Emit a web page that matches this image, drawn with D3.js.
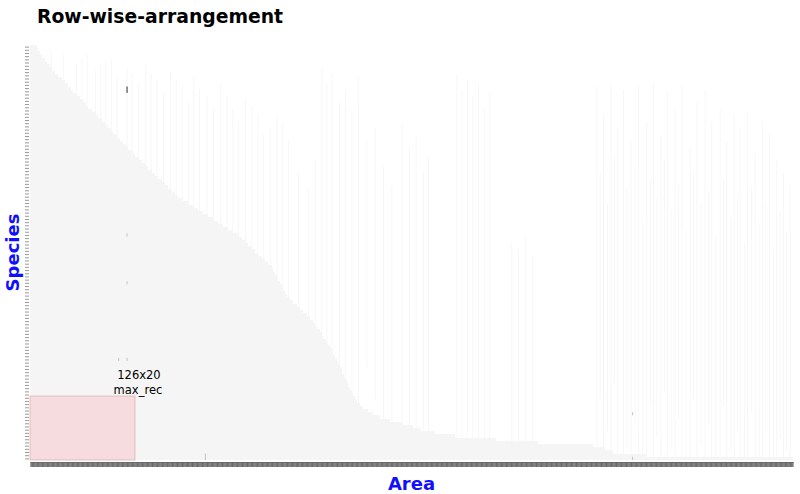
<!DOCTYPE html>
<html><head><meta charset="utf-8">
<script src="https://cdn.jsdelivr.net/npm/d3@7"></script>
<style>body{margin:0;background:#fff}svg{display:block}</style>
</head><body>
<svg id="chart" width="800" height="494"></svg>
<script>
// ---- data ----
const nRows = 130;   // species
const nCols = 916;   // areas
// contiguous presence extent (in columns, from the left) for each species row, top to bottom
const rowExtent = [
  8,10,12,15,18,20,24,27,30,34, 38,42,46,49,52,56,60,64,67,70,
  74,78,82,86,90,94,97,100,104,108, 112,115,118,122,126,130,134,138,142,146,
  150,154,158,162,166,170,174,178,184,190, 196,202,208,214,220,226,232,238,244,250,
  254,258,262,266,270,274,278,282,286,290, 292,294,296,298,300,302,304,306,308,312,
  316,320,324,328,332,336,340,342,345,348, 350,352,355,357,360,362,364,366,368,370,
  372,374,375,377,378,380,382,384,386,388, 390,392,396,400,406,412,420,432,446,460,
  470,486,510,560,610,676,690,700,740,916
];
// sparse presence streaks beyond the contiguous part: [column, first row, last row]
const streaks = [
  [25,2,129],[40,3,129],[55,6,129],[62,4,129],[78,8,129],[90,5,129],[104,10,129],[116,7,129],
  [130,12,129],[145,9,129],[160,15,129],[175,11,129],[190,18,129],[203,14,129],[220,20,129],
  [236,16,129],[250,24,129],[266,19,129],[280,28,129],[296,22,129],[310,30,129],
  [68,3,60],[84,6,70],[97,4,80],[122,9,90],[138,6,100],[152,11,90],[168,8,110],[182,13,95],
  [196,10,120],[212,16,110],[228,12,120],[243,20,115],[258,17,125],[273,22,120],[288,26,129],[303,24,129],
  [322,40,129],[334,45,129],[342,36,129],
  [350,7,129],[356,12,129],[362,9,129],[371,18,129],[378,14,129],[386,20,129],[394,10,129],
  [404,30,100],[414,26,110],[424,38,120],[434,44,129],
  [446,25,129],[455,32,129],[463,28,129],[472,40,129],[478,35,129],
  [512,9,129],[518,14,129],[525,11,129],[531,16,129],[538,12,129],[545,20,129],[551,15,129],
  [578,62,129],[586,64,129],[594,60,129],[603,66,129],
  [680,13,129],[688,22,129],[697,12,129],[705,26,129],[712,14,129],[721,30,129],[730,13,129],
  [740,24,129],[748,12,129],[757,28,129],[765,15,129],[774,20,129],[782,13,129],[792,32,129],
  [800,18,129],[810,14,129],[818,24,129],[828,20,129],[836,30,129],[845,22,129],[852,26,129],
  [861,21,129],[870,34,129],[879,24,129],[887,28,129],[896,36,129],[904,40,129],[912,44,129],
  [684,40,110],[693,50,120],[701,35,105],[716,45,125],[726,38,118],[735,55,129],[744,42,112],
  [752,48,122],[761,36,108],[770,52,126],[778,44,116],[787,58,129],[796,40,110],[805,50,124],
  [814,46,118],[823,60,129],[832,42,112],[841,54,126],[849,48,120],[857,62,129],[866,44,114],
  [875,56,128],[883,50,120],[892,64,129],[900,52,122],[908,58,126]
];
// a few cells with higher values: [column, row, value]
const highlights = [
  [116,13,5],[116,14,5],[116,59,2],[116,74,2],[106,98,2],[116,98,2],[210,128,2],[210,129,2],[723,115,2],[723,129,2]
];
// largest all-present rectangle found
const maxRec = {cols:126, rows:20, label1:"126x20", label2:"max_rec"};

// ---- chart ----
const svg = d3.select("#chart");
const pL = 30, pR = 793, pT = 45, pB = 460;
const x = d3.scaleLinear().domain([0, nCols]).range([pL, pR]);
const y = d3.scaleLinear().domain([0, nRows]).range([pT, pB]);
const color = d3.scaleLinear().domain([0,1,5]).range(["#ffffff","#f5f5f5","#000000"]);

const g = svg.append("g");
g.selectAll("rect.row").data(rowExtent).join("rect")
  .attr("class","row")
  .attr("x", x(0)).attr("y", (d,i)=>y(i))
  .attr("width", d => x(d)-x(0)).attr("height", y(1)-y(0))
  .attr("fill", color(1)).attr("shape-rendering","crispEdges");
g.selectAll("rect.streak").data(streaks).join("rect")
  .attr("class","streak")
  .attr("x", d=>x(d[0])).attr("y", d=>y(d[1]))
  .attr("width", x(1)-x(0)).attr("height", d=>y(d[2]+1)-y(d[1]))
  .attr("fill", color(1));
g.selectAll("rect.hl").data(highlights).join("rect")
  .attr("class","hl")
  .attr("x", d=>x(d[0])).attr("y", d=>y(d[1]))
  .attr("width", x(1)-x(0)).attr("height", y(1)-y(0))
  .attr("fill", d=>color(d[2]));

// max rectangle
svg.append("rect")
  .attr("x", x(0)).attr("y", y(nRows-maxRec.rows))
  .attr("width", x(maxRec.cols)-x(0)).attr("height", y(nRows)-y(nRows-maxRec.rows))
  .attr("fill","rgba(248,190,195,0.45)").attr("stroke","rgba(210,160,160,0.4)").attr("stroke-width",1.5);
svg.append("text").attr("x", x(maxRec.cols)+4).attr("y", y(nRows-maxRec.rows)-17)
  .attr("text-anchor","middle").attr("font-family","DejaVu Sans").attr("font-size",11.5).attr("fill","#000")
  .text(maxRec.label1);
svg.append("text").attr("x", x(maxRec.cols)+3).attr("y", y(nRows-maxRec.rows)-2)
  .attr("text-anchor","middle").attr("font-family","DejaVu Sans").attr("font-size",11.5).attr("fill","#000")
  .text(maxRec.label2);

// axes
const xAxis = d3.axisBottom(x).tickValues(d3.range(nCols).map(i=>i+0.5)).tickSize(5).tickSizeOuter(0).tickFormat("");
const xg = svg.append("g").attr("transform",`translate(0,${pB+2})`).call(xAxis);
xg.selectAll("line").attr("stroke","#6a6a6a");
xg.select(".domain").attr("stroke","#777");
const yAxis = d3.axisLeft(y).tickValues(d3.range(nRows).map(i=>i+0.5)).tickSize(4).tickSizeOuter(0).tickFormat("");
const yg = svg.append("g").attr("transform",`translate(${pL-1},0)`).call(yAxis);
yg.select(".domain").remove();
yg.selectAll("line").attr("stroke","#999");

// titles
svg.append("text").attr("x",37).attr("y",23).attr("font-family","DejaVu Sans").attr("font-weight","bold")
  .attr("font-size",18.8).attr("fill","#000").text("Row-wise-arrangement");
svg.append("text").attr("x",(pL+pR)/2).attr("y",490).attr("text-anchor","middle")
  .attr("font-family","DejaVu Sans").attr("font-weight","bold").attr("font-size",18).attr("fill","#1010ff").text("Area");
svg.append("text").attr("transform",`translate(19,${(pT+pB)/2}) rotate(-90)`).attr("text-anchor","middle")
  .attr("font-family","DejaVu Sans").attr("font-weight","bold").attr("font-size",18).attr("fill","#1010ff").text("Species");
</script>
</body></html>
